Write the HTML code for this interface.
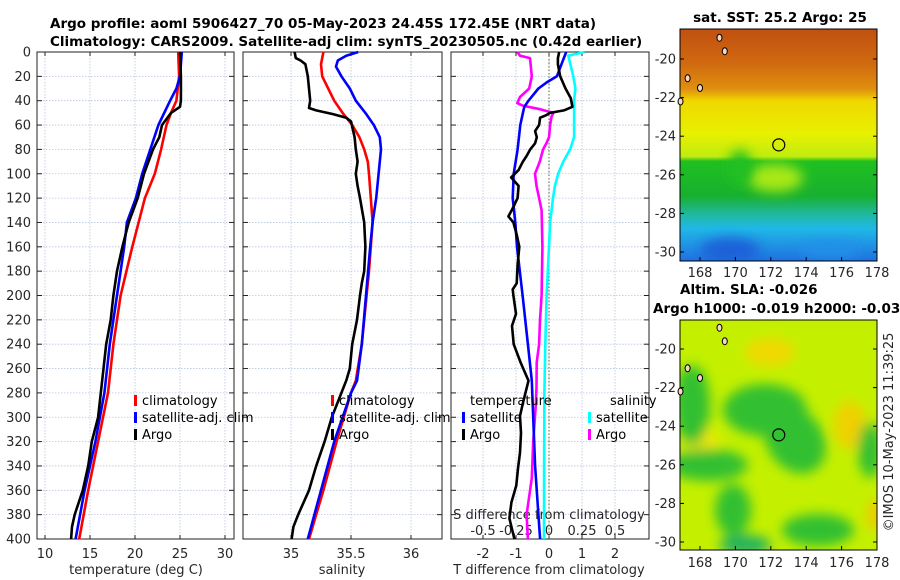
<!DOCTYPE html>
<html><head><meta charset="utf-8"><style>
body{margin:0;background:#fff;}
svg{display:block;font-family:"DejaVu Sans","Liberation Sans",sans-serif;}
.t{font-size:13px;fill:#262626;}
.ti{font-size:13.5px;font-weight:bold;fill:#000;}
.lg{font-size:13px;fill:#000;}
</style></head><body>
<svg id="fig" width="900" height="580" viewBox="0 0 900 580">
<defs>
<linearGradient id="sstg" x1="0" y1="0" x2="0" y2="1">
<stop offset="0" stop-color="#c05010"/><stop offset="0.15" stop-color="#d06a10"/>
<stop offset="0.26" stop-color="#e09010"/><stop offset="0.31" stop-color="#f0d800"/>
<stop offset="0.45" stop-color="#e8f000"/><stop offset="0.55" stop-color="#c0ec10"/>
<stop offset="0.57" stop-color="#20c020"/><stop offset="0.72" stop-color="#18b030"/>
<stop offset="0.8" stop-color="#20b8a0"/><stop offset="0.86" stop-color="#20b8e8"/>
<stop offset="1" stop-color="#2070e0"/></linearGradient>
<filter id="bl" x="-50%" y="-50%" width="200%" height="200%"><feGaussianBlur stdDeviation="6"/></filter>
<clipPath id="c1"><rect x="680" y="29" width="197" height="232"/></clipPath>
<clipPath id="c2"><rect x="680" y="320" width="197" height="230"/></clipPath>
</defs>
<g id="titles">
<text class="ti" x="50" y="28">Argo profile: aoml 5906427_70 05-May-2023 24.45S 172.45E (NRT data)</text>
<text class="ti" x="50" y="46">Climatology: CARS2009. Satellite-adj clim: synTS_20230505.nc (0.42d earlier)</text>
</g>
<g id="panels"></g>
<g id="maps">
<text class="ti" x="780" y="22" text-anchor="middle">sat. SST: 25.2 Argo: 25</text>
<g clip-path="url(#c1)">
<rect x="680" y="29" width="197" height="232" fill="url(#sstg)"/>
<ellipse cx="775" cy="178" rx="28" ry="14" fill="#a8e818" filter="url(#bl)"/>
<ellipse cx="740" cy="168" rx="12" ry="18" fill="#20c020" filter="url(#bl)"/>
<ellipse cx="730" cy="250" rx="30" ry="12" fill="#1f60d8" filter="url(#bl)"/>
<ellipse cx="830" cy="250" rx="30" ry="8" fill="#2090e8" filter="url(#bl)"/>
</g>
<rect x="680" y="29" width="197" height="232" fill="none" stroke="#000" stroke-width="1"/>
<text class="ti" x="680" y="294">Altim. SLA: -0.026</text>
<text class="ti" x="653" y="313">Argo h1000: -0.019 h2000: -0.031</text>
<g clip-path="url(#c2)">
<rect x="680" y="320" width="197" height="230" fill="#c4f000"/>
<g filter="url(#bl)">
<ellipse cx="770" cy="352" rx="25" ry="14" fill="#f0d800"/>
<ellipse cx="850" cy="425" rx="16" ry="24" fill="#f0d000"/>
<ellipse cx="700" cy="440" rx="18" ry="14" fill="#f0e800"/>
<ellipse cx="692" cy="405" rx="18" ry="40" fill="#30c030"/>
<ellipse cx="765" cy="410" rx="42" ry="26" fill="#30c030"/>
<ellipse cx="795" cy="440" rx="28" ry="36" fill="#30c030" transform="rotate(-35 795 440)"/>
<ellipse cx="708" cy="465" rx="40" ry="16" fill="#30c030"/>
<ellipse cx="733" cy="510" rx="18" ry="26" fill="#30c030"/>
<ellipse cx="745" cy="545" rx="26" ry="10" fill="#20b060"/>
<ellipse cx="818" cy="530" rx="36" ry="16" fill="#30c030"/>
<ellipse cx="870" cy="450" rx="12" ry="28" fill="#30c030"/>
<ellipse cx="875" cy="515" rx="8" ry="15" fill="#f0c800"/>
</g>
</g>
<rect x="680" y="320" width="197" height="230" fill="none" stroke="#000" stroke-width="1"/>
<text x="896" y="435" class="t" font-size="13" text-anchor="middle" transform="rotate(-90 893 435)">©IMOS 10-May-2023 11:39:25</text>
</g>
<script>
// ---------- profile data ----------
var depthTicks=[0,20,40,60,80,100,120,140,160,180,200,220,240,260,280,300,320,340,360,380,400];
var tempTicks=[10,15,20,25,30];
var salTicks=[35,35.5,36];
var salTickLabels=["35","35.5","36"];
var tdiffTicks=[-2,-1,0,1,2];
var tdiffLabels=["-2","-1","0","1","2"];
var sdiffTicks=[-0.5,-0.25,0,0.25,0.5];
var sdiffLabels=["-0.5","-0.25","0","0.25","0.5"];
var mapLatTicks=[-20,-22,-24,-26,-28,-30];
var mapLonTicks=[168,170,172,174,176,178];

var tClimDepth=[0,20,40,50,60,80,100,120,160,200,240,280,320,360,400];
var tClimVal=[24.8,24.9,24.6,24.0,23.5,22.9,22.2,21.1,19.7,18.4,17.6,17.0,15.9,14.8,13.8];
var tSatDepth=[0,20,30,40,60,80,100,120,140,160,200,240,280,320,360,400];
var tSatVal=[25.2,25.0,24.6,23.9,22.6,21.7,20.8,20.1,19.1,18.8,18.0,17.2,16.6,15.6,14.4,13.4];
var tArgoDepth=[0,20,40,45,50,55,60,70,80,100,120,140,160,180,200,220,240,260,280,300,320,340,360,380,390,400];
var tArgoVal=[25.0,25.1,25.1,25.0,24.0,23.5,23.0,22.7,22.0,21.0,20.3,19.3,18.6,18.0,17.6,17.3,16.8,16.5,16.2,15.9,15.2,14.8,14.2,13.3,13.0,12.9];

var sClimDepth=[0,10,20,30,40,50,55,60,70,80,90,100,140,180,200,240,270,280,320,360,400];
var sClimVal=[35.27,35.25,35.26,35.31,35.36,35.43,35.47,35.51,35.57,35.61,35.64,35.65,35.68,35.65,35.63,35.59,35.54,35.5,35.38,35.27,35.15];
var sSatDepth=[0,3,7,12,20,30,40,50,60,70,80,100,120,140,160,200,240,270,280,320,360,400];
var sSatVal=[35.56,35.46,35.39,35.375,35.42,35.49,35.54,35.62,35.69,35.74,35.75,35.73,35.71,35.68,35.66,35.625,35.59,35.55,35.5,35.36,35.25,35.14];
var sArgoDepth=[0,5,7,10,20,30,40,46,48,51,54,57,70,80,90,100,110,120,140,160,180,190,200,220,240,260,270,280,300,320,340,360,380,390,400];
var sArgoVal=[35.03,35.04,35.08,35.12,35.14,35.15,35.16,35.15,35.21,35.35,35.46,35.5,35.53,35.54,35.555,35.54,35.555,35.575,35.61,35.62,35.61,35.59,35.575,35.55,35.51,35.49,35.46,35.42,35.34,35.28,35.21,35.15,35.06,35.02,35.005];

var dtSatDepth=[0,10,20,25,30,40,45,50,60,80,100,120,140,160,200,240,270,300,340,380,400];
var dtSatVal=[0.52,0.38,0.24,-0.07,-0.32,-0.62,-0.75,-0.79,-0.87,-0.95,-1.07,-1.1,-1.02,-0.97,-0.8,-0.64,-0.52,-0.48,-0.42,-0.32,-0.27];
var dtArgoDepth=[0,5,10,20,30,38,45,48,50,52,54,60,65,70,75,80,85,90,97,103,110,120,130,135,140,150,160,175,190,195,200,215,225,240,255,270,287,299,313,329,342,356,370,383,400];
var dtArgoVal=[0.31,0.27,0.27,0.34,0.5,0.66,0.71,0.45,0.03,-0.09,-0.27,-0.3,-0.42,-0.37,-0.42,-0.57,-0.67,-0.79,-0.92,-1.15,-0.92,-0.95,-1.13,-1.23,-1.08,-0.98,-0.9,-0.95,-0.98,-1.1,-1.08,-1.0,-1.12,-1.07,-0.86,-0.62,-0.78,-0.88,-0.85,-0.88,-0.94,-0.99,-1.14,-1.2,-1.05];
var dsSatDepth=[0,3,20,30,40,50,60,70,80,90,100,110,120,140,160,200,240,280,340,400];
var dsSatVal=[0.27,0.146,0.184,0.2,0.19,0.19,0.19,0.19,0.16,0.108,0.07,0.045,0.03,0.008,0.0,-0.018,-0.028,-0.035,-0.037,-0.038];
var dsArgoDepth=[0,3,5,20,30,37,42,44,47,50,53,60,70,75,80,90,100,110,120,130,160,200,220,240,255,275,290,320,350,380,400];
var dsArgoVal=[-0.24,-0.22,-0.144,-0.13,-0.15,-0.22,-0.24,-0.2,-0.068,0.033,0.02,0.008,0.0,-0.02,-0.045,-0.07,-0.106,-0.095,-0.075,-0.056,-0.05,-0.056,-0.068,-0.075,-0.093,-0.095,-0.1,-0.12,-0.13,-0.17,-0.16];

var NS='http://www.w3.org/2000/svg';
var root=document.getElementById('panels');
function mk(tag,attrs,parent){var e=document.createElementNS(NS,tag);for(var k in attrs)e.setAttribute(k,attrs[k]);(parent||root).appendChild(e);return e;}
var TOP=52,BOT=539;
function yD(d){return TOP+(BOT-TOP)*d/400;}
function lin(v0,x0,v1,x1){return function(v){return x0+(v-v0)*(x1-x0)/(v1-v0);};}
var P=[
 {l:37,r:234,x:lin(10,45,30,225),name:'temperature-panel'},
 {l:243,r:442,x:lin(35,291,35.5,351),name:'salinity-panel'},
 {l:451,r:649,x:lin(0,549,2,615),name:'difference-panel'}];
var xS=lin(0,549,0.5,615);

function txt(x,y,s,cls,anchor,name){var t=mk('text',{x:x,y:y,'class':cls,'text-anchor':anchor||'middle'});t.textContent=s;


return t;}

P.forEach(function(p,i){
 var g=mk('g',{});
 
 
 p.g=g;
 var ticks=i==0?tempTicks:(i==1?salTicks:tdiffTicks);
 ticks.forEach(function(v){var X=p.x(v);
  var gl=mk('line',{x1:X,x2:X,y1:TOP,y2:BOT,stroke:'#b8c4e0','stroke-width':0.8,'stroke-dasharray':'1.5,1.5'},g);
  
  
  mk('line',{x1:X,x2:X,y1:BOT,y2:BOT-4,stroke:'#222'},g);
  mk('line',{x1:X,x2:X,y1:TOP,y2:TOP+4,stroke:'#222'},g);
 });
 depthTicks.forEach(function(d){var Y=yD(d);
  var gl=mk('line',{x1:p.l,x2:p.r,y1:Y,y2:Y,stroke:'#b8c4e0','stroke-width':0.8,'stroke-dasharray':'1.5,1.5'},g);
  
  
  mk('line',{x1:p.l,x2:p.l+5,y1:Y,y2:Y,stroke:'#222'},g);
  mk('line',{x1:p.r,x2:p.r-5,y1:Y,y2:Y,stroke:'#222'},g);
 });
 var fr=mk('rect',{x:p.l,y:TOP,width:p.r-p.l,height:BOT-TOP,fill:'none',stroke:'#222','stroke-width':1},g);
 
 
});
depthTicks.forEach(function(d){txt(31,yD(d)+4.5,String(d),'t','end','y-tick-label');});
tempTicks.forEach(function(v){txt(P[0].x(v),558,String(v),'t','middle','x-tick-label');});
salTicks.forEach(function(v,i){txt(P[1].x(v),558,salTickLabels[i],'t','middle','x-tick-label');});
tdiffTicks.forEach(function(v,i){txt(P[2].x(v),558,tdiffLabels[i],'t','middle','x-tick-label');});
sdiffTicks.forEach(function(v,i){txt(xS(v),535,sdiffLabels[i],'t','middle','s-diff-tick-label');});
txt(136,574,'temperature (deg C)','t','middle','x-axis-title-temperature');
txt(342,574,'salinity','t','middle','x-axis-title-salinity');
txt(549,574,'T difference from climatology','t','middle','x-axis-title-t-diff');
txt(549,519,'S difference from climatology','t','middle','x-axis-title-s-diff');
var zl=mk('line',{x1:549,x2:549,y1:TOP,y2:BOT,stroke:'#556b2f','stroke-width':1,'stroke-dasharray':'1.5,2'});



function series(depths,vals,fx,color,name){
 var pts=depths.map(function(d,i){return fx(vals[i]).toFixed(1)+','+yD(d).toFixed(1);}).join(' ');
 var pl=mk('polyline',{points:pts,fill:'none',stroke:color,'stroke-width':2.6,'stroke-linejoin':'round'});
 
 
}
series(tClimDepth,tClimVal,P[0].x,'#ff0000','temp-climatology-line');
series(tSatDepth,tSatVal,P[0].x,'#0000ff','temp-satellite-line');
series(tArgoDepth,tArgoVal,P[0].x,'#000000','temp-argo-line');
series(sClimDepth,sClimVal,P[1].x,'#ff0000','sal-climatology-line');
series(sSatDepth,sSatVal,P[1].x,'#0000ff','sal-satellite-line');
series(sArgoDepth,sArgoVal,P[1].x,'#000000','sal-argo-line');
series(dsArgoDepth,dsArgoVal,xS,'#ff00ff','s-diff-argo-line');
series(dsSatDepth,dsSatVal,xS,'#00ffff','s-diff-satellite-line');
series(dtSatDepth,dtSatVal,P[2].x,'#0000ff','t-diff-satellite-line');
series(dtArgoDepth,dtArgoVal,P[2].x,'#000000','t-diff-argo-line');

function legend(x,y,color,label){
 var m=mk('rect',{x:x,y:y-10,width:3,height:11,fill:color});
 
 
 txt(x+8,y,label,'lg','start','legend-entry');
}
legend(134,405,'#ff0000','climatology');
legend(134,422,'#0000ff','satellite-adj. clim');
legend(134,439,'#000000','Argo');
legend(331,405,'#ff0000','climatology');
legend(331,422,'#0000ff','satellite-adj. clim');
legend(331,439,'#000000','Argo');
txt(470,405,'temperature','lg','start','legend-title-temperature');
legend(462,422,'#0000ff','satellite');
legend(462,439,'#000000','Argo');
txt(610,405,'salinity','lg','start','legend-title-salinity');
legend(588,422,'#00ffff','satellite');
legend(588,439,'#ff00ff','Argo');

var lonX=lin(168,700,178,877);
var latY1=lin(-20,59,-30,252), latY2=lin(-20,349,-30,542);
var mg=document.getElementById('maps');
[[latY1,29,261,277],[latY2,320,550,567]].forEach(function(m){
 mapLatTicks.forEach(function(v){var Y=m[0](v);
  mk('line',{x1:680,x2:684,y1:Y,y2:Y,stroke:'#000'},mg);
  mk('line',{x1:877,x2:873,y1:Y,y2:Y,stroke:'#000'},mg);
  var t=mk('text',{x:676,y:Y+4.5,'class':'t','text-anchor':'end'},mg);t.textContent=String(v);
  
  
 });
 mapLonTicks.forEach(function(v){var X=lonX(v);
  mk('line',{x1:X,x2:X,y1:m[2],y2:m[2]-4,stroke:'#000'},mg);
  var t=mk('text',{x:X,y:m[3],'class':'t','text-anchor':'middle'},mg);t.textContent=String(v);
  
  
 });
 [[169.1,-18.9],[169.4,-19.6],[167.3,-21.0],[168.0,-21.5],[166.9,-22.2]].forEach(function(c){
  var e=mk('ellipse',{cx:lonX(c[0]),cy:m[0](c[1]),rx:2.5,ry:3.5,fill:'#f5d8c0',stroke:'#000','stroke-width':1},mg);
  
  
 });
 var c=mk('circle',{cx:lonX(172.45),cy:m[0](-24.45),r:6,fill:'none',stroke:'#000','stroke-width':1.2},mg);
 
 
});
</script>
</svg>
</body></html>
